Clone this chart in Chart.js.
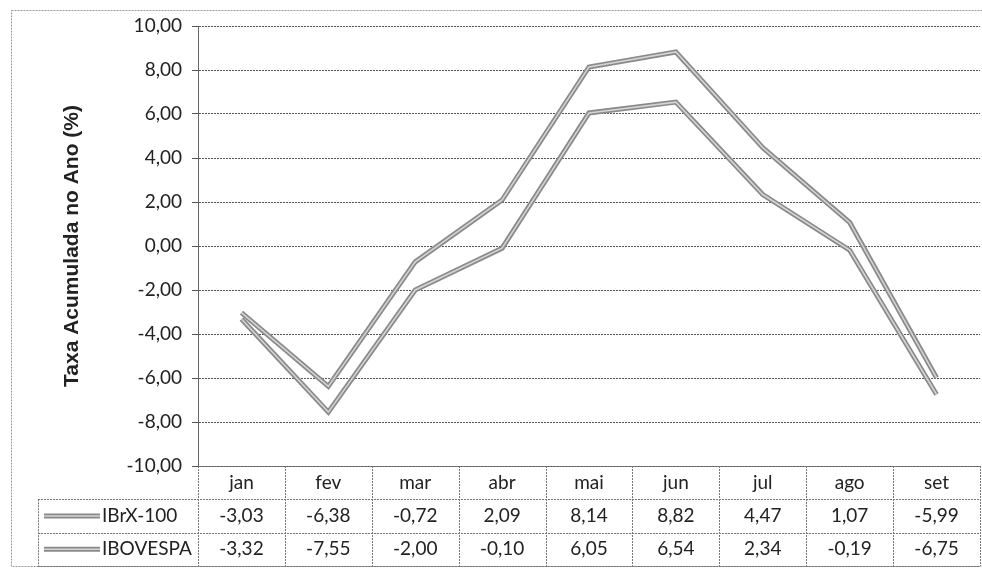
<!DOCTYPE html>
<html><head><meta charset="utf-8">
<script src="https://cdn.jsdelivr.net/npm/chart.js@4.4.1/dist/chart.umd.min.js"></script>
<style>html,body{margin:0;padding:0;background:#fff}canvas{display:block}</style>
</head><body>
<canvas id="c" width="982" height="575"></canvas>
<script>
const categories = ['jan','fev','mar','abr','mai','jun','jul','ago','set'];
const ibrx100 = [-3.03,-6.38,-0.72,2.09,8.14,8.82,4.47,1.07,-5.99];
const ibovespa = [-3.32,-7.55,-2.00,-0.10,6.05,6.54,2.34,-0.19,-6.75];
const seriesNames = ['IBrX-100','IBOVESPA'];
const yTicks = [-10,-8,-6,-4,-2,0,2,4,6,8,10];

const fmt = v => v.toFixed(2).replace('.', ',');
const FONT = 'Lato, "Open Sans", sans-serif';
const OUTER = '#8a8a8a', INNER = '#d4d4d4';

const frame = {
  id: 'frame',
  beforeDraw(chart) {
    const ctx = chart.ctx;
    ctx.save();
    ctx.fillStyle = '#fff';
    ctx.fillRect(0, 0, chart.width, chart.height);
    ctx.strokeStyle = '#9a9a9a';
    ctx.lineWidth = 1;
    ctx.setLineDash([2, 1]);
    ctx.strokeRect(11.5, 10.5, chart.width, 556);
    ctx.restore();
  }
};

const innerLine = {
  id: 'innerLine',
  afterDatasetsDraw(chart) {
    const ctx = chart.ctx;
    ctx.save();
    chart.data.datasets.forEach((ds, i) => {
      const pts = chart.getDatasetMeta(i).data;
      ctx.beginPath();
      pts.forEach((p, k) => k ? ctx.lineTo(p.x, p.y) : ctx.moveTo(p.x, p.y));
      ctx.strokeStyle = INNER;
      ctx.lineWidth = 1.6;
      ctx.lineJoin = 'miter';
      ctx.stroke();
    });
    ctx.restore();
  }
};

const table = {
  id: 'table',
  afterDraw(chart) {
    const ctx = chart.ctx, xs = chart.scales.x, a = chart.chartArea;
    const half = (xs.getPixelForValue(1) - xs.getPixelForValue(0)) / 2;
    const top = a.bottom, rh = 33.3, legL = 38;
    const rows = [top, top + rh, top + 2 * rh, top + 3 * rh];
    ctx.save();
    ctx.strokeStyle = '#777';
    ctx.lineWidth = 1;
    ctx.setLineDash([2, 1]);
    const hl = (x1, x2, y) => { ctx.beginPath(); ctx.moveTo(x1, Math.round(y) + 0.5); ctx.lineTo(x2, Math.round(y) + 0.5); ctx.stroke(); };
    const vl = (x, y1, y2) => { ctx.beginPath(); ctx.moveTo(Math.round(x) + 0.5, y1); ctx.lineTo(Math.round(x) + 0.5, y2); ctx.stroke(); };
    hl(a.left, a.right, rows[0]);
    hl(legL, a.right, rows[1]);
    hl(legL, a.right, rows[2]);
    hl(legL, a.right, rows[3]);
    vl(legL, rows[1], rows[3]);
    vl(a.left, rows[0], rows[3]);
    categories.forEach((c, i) => {
      const cx = xs.getPixelForValue(i);
      vl(cx + half, rows[0], rows[3]);
    });
    ctx.setLineDash([]);
    ctx.fillStyle = '#222';
    ctx.font = '19px ' + FONT;
    ctx.textAlign = 'center';
    ctx.textBaseline = 'middle';
    const data = [ibrx100, ibovespa];
    categories.forEach((c, i) => {
      const cx = xs.getPixelForValue(i);
      ctx.fillText(c, cx, (rows[0] + rows[1]) / 2);
      data.forEach((arr, r) => ctx.fillText(fmt(arr[i]), cx, (rows[r + 1] + rows[r + 2]) / 2));
    });
    seriesNames.forEach((n, r) => {
      const y = (rows[r + 1] + rows[r + 2]) / 2;
      ctx.strokeStyle = OUTER; ctx.lineWidth = 5;
      ctx.beginPath(); ctx.moveTo(44, y); ctx.lineTo(100, y); ctx.stroke();
      ctx.strokeStyle = INNER; ctx.lineWidth = 1.6;
      ctx.beginPath(); ctx.moveTo(44, y); ctx.lineTo(100, y); ctx.stroke();
      ctx.textAlign = 'left';
      ctx.fillStyle = '#222';
      ctx.fillText(n, 102, y);
    });
    ctx.restore();
  }
};

new Chart(document.getElementById('c'), {
  type: 'line',
  data: {
    labels: categories,
    datasets: [
      { label: seriesNames[0], data: ibrx100, borderColor: OUTER, borderWidth: 5, pointRadius: 0, tension: 0, fill: false },
      { label: seriesNames[1], data: ibovespa, borderColor: OUTER, borderWidth: 5, pointRadius: 0, tension: 0, fill: false }
    ]
  },
  options: {
    responsive: false,
    animation: false,
    devicePixelRatio: 1,
    layout: { padding: { left: 10, right: 2, top: 26, bottom: 0 } },
    plugins: { legend: { display: false }, tooltip: { enabled: false }, title: { display: false } },
    scales: {
      x: {
        offset: true,
        grid: { display: false },
        border: { display: false },
        ticks: { display: false },
        afterFit(s) { s.height = 109; }
      },
      y: {
        min: -10, max: 10,
        afterBuildTicks(s) { s.ticks = yTicks.map(v => ({ value: v })); },
        ticks: {
          callback: v => fmt(v),
          color: '#222',
          font: { family: FONT, size: 19 },
          padding: 10
        },
        grid: {
          color: '#555',
          tickLength: 6,
          lineWidth: 1,
          drawOnChartArea: true
        },
        border: { display: true, color: '#666', dash: [2, 1] },
        title: {
          display: true,
          text: 'Taxa Acumulada no Ano (%)',
          color: '#222',
          font: { family: '"Liberation Sans", Arial, sans-serif', size: 21, weight: 'bold' },
          padding: { top: 50, bottom: 0 }
        },
        afterFit(s) { s.width = 188; }
      }
    }
  },
  plugins: [frame, innerLine, table]
});
</script>
</body></html>
